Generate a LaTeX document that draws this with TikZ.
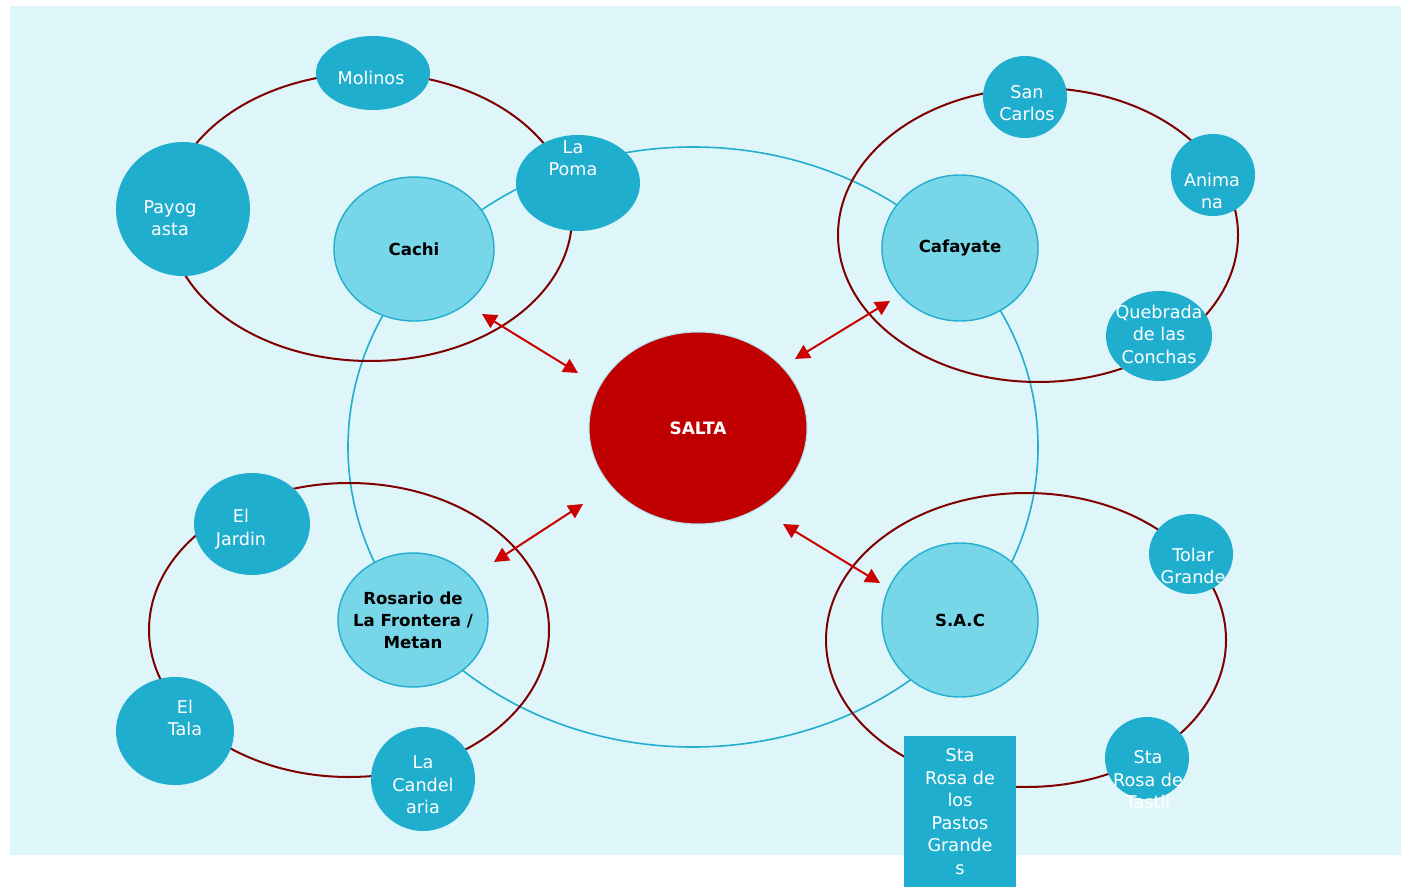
\documentclass[tikz,border=0pt]{standalone}
\usepackage{fontspec}
\setmainfont{DejaVu Sans}
\usepackage{tikz}
\usetikzlibrary{shapes.geometric}
\usetikzlibrary{arrows.meta}
\usepackage{xcolor}
\definecolor{bgcyan}{RGB}{222,245,249}
\definecolor{ringblue}{RGB}{34,174,207}
\definecolor{satblue}{RGB}{32,174,207}
\definecolor{hubblue}{RGB}{119,214,232}
\definecolor{ringred}{RGB}{128,0,0}
\definecolor{saltared}{RGB}{192,0,0}
\definecolor{arrowred}{RGB}{204,0,0}
\tikzset{>={Triangle[length=7.3pt,width=7.4pt]}}

\begin{document}
\begin{tikzpicture}[x=0.5pt,y=-0.5pt]
        % grid in px of the sketch, y pointing down
        \tikzstyle{sat}=[ellipse, fill=satblue, inner sep=0pt]
        \tikzstyle{sattext}=[text=white, align=center, font=\fontsize{8.8}{11.25}\selectfont]
        \tikzstyle{hub}=[ellipse, fill=hubblue, draw=ringblue, line width=0.7pt, inner sep=0pt, align=center, font=\bfseries\fontsize{8.3}{11}\selectfont]
        \tikzstyle{ring}=[draw=ringred, line width=1pt]
        \tikzstyle{link}=[<->, draw=arrowred, line width=1pt]

        \useasboundingbox (0,0) rectangle (1401,887);
        \fill[bgcyan] (10,6) rectangle (1401,855);

        % rings
        \draw[ringblue, line width=0.8pt] (693,447) ellipse [x radius=172.5pt, y radius=150pt];
        \draw[ring] (370,217) ellipse [x radius=101pt, y radius=72pt];
        \draw[ring] (1038,235) ellipse [x radius=100pt, y radius=73.5pt];
        \draw[ring] (349,630) ellipse [x radius=100pt, y radius=73.5pt];
        \draw[ring] (1026,640) ellipse [x radius=100pt, y radius=73.5pt];

        \node[ellipse, fill=saltared, draw=ringblue!35, line width=0.5pt, minimum width=109pt, minimum height=96pt, text=white, font=\bfseries\fontsize{8.5}{11}\selectfont] (SALTA) at (698,428) {SALTA};

        \node[hub, minimum width=80pt, minimum height=72pt] (Cachi) at (414,249) {Cachi};
        \node[hub, minimum width=78pt, minimum height=73pt] (Cafayate) at (960,248) {Cafayate};
        \node[hub, minimum width=75pt, minimum height=67pt, label={[align=center, font=\bfseries\fontsize{8.3}{11}\selectfont]center:Rosario de\\La Frontera /\\Metan}] (Rosario) at (413,620) {};
        \node[hub, minimum width=78pt, minimum height=77pt] (SAC) at (960,620) {S.A.C};

        % arrows between salta and the hubs
        \coordinate (cachiArr) at (482,314);
        \coordinate (saltaArrA) at (578,373);
        \draw[link] (cachiArr) -- (saltaArrA);
        \coordinate (cafayateArr) at (890,301);
        \coordinate (saltaArrB) at (795,359);
        \draw[link] (saltaArrB) -- (cafayateArr);
        \coordinate (rosarioArr) at (494,562);
        \coordinate (saltaArrC) at (583,504);
        \draw[link] (rosarioArr) -- (saltaArrC);
        \coordinate (sacArr) at (880,583);
        \coordinate (saltaArrD) at (783,524);
        \draw[link] (saltaArrD) -- (sacArr);

        % satellites
        \node[sat, minimum width=57pt, minimum height=37pt, label={[sattext, shift={(-1pt,-2.5pt)}]center:Molinos}] (Molinos) at (373,73) {};
        \node[sat, minimum width=67pt, minimum height=67pt, label={[sattext, shift={(-6.5pt,-4.5pt)}]center:Payog\\asta}] (Payogasta) at (183,209) {};
        \node[sat, minimum width=62pt, minimum height=48pt, label={[sattext, shift={(-2.5pt,12.5pt)}]center:La\\Poma}] (LaPoma) at (578,183) {};
        \node[sat, minimum width=42pt, minimum height=41pt, label={[sattext, shift={(1pt,-3pt)}]center:San\\Carlos}] (SanCarlos) at (1025,97) {};
        \node[sat, minimum width=42pt, minimum height=41pt, label={[sattext, shift={(-0.5pt,-8pt)}]center:Anima\\na}] (Animana) at (1213,175) {};
        \node[sat, minimum width=53pt, minimum height=45pt, label={[sattext, shift={(0pt,1pt)}]center:Quebrada\\de las\\Conchas}] (Quebrada) at (1159,336) {};
        \node[sat, minimum width=58pt, minimum height=51pt, label={[sattext, shift={(-5.5pt,-2.5pt)}]center:El\\Jardin}] (ElJardin) at (252,524) {};
        \node[sat, minimum width=59pt, minimum height=54pt, label={[sattext, shift={(5pt,6.5pt)}]center:El\\Tala}] (ElTala) at (175,731) {};
        \node[sat, minimum width=52pt, minimum height=52pt, label={[sattext, shift={(0pt,-3pt)}]center:La\\Candel\\aria}] (Candelaria) at (423,779) {};
        \node[sat, minimum width=42pt, minimum height=40pt, label={[sattext, shift={(1pt,-6pt)}]center:Tolar\\Grande}] (TolarGrande) at (1191,554) {};
        \node[sat, minimum width=42pt, minimum height=41pt, label={[sattext, shift={(0.5pt,-11pt)}]center:Sta\\Rosa de\\Tastil}] (Tastil) at (1147,758) {};
        \node[rectangle, fill=satblue, inner sep=0pt, minimum width=56pt, minimum height=75.5pt, sattext] (Pastos) at (960,811.5) {Sta\\Rosa de\\los\\Pastos\\Grande\\s};
\end{tikzpicture}
\end{document}
